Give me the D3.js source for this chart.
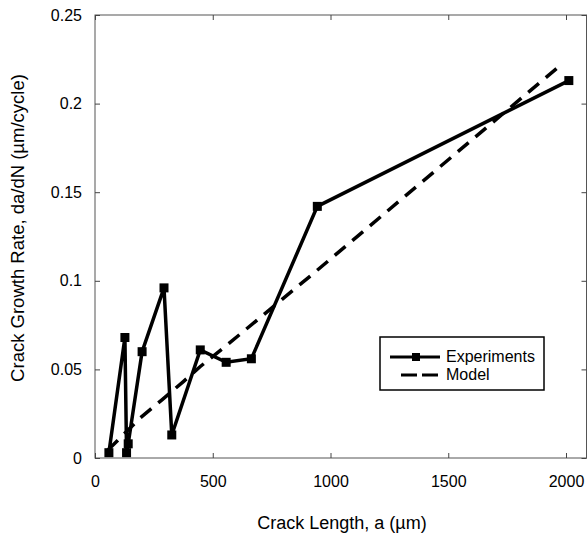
<!DOCTYPE html>
<html>
<head>
<meta charset="utf-8">
<script src="https://cdn.jsdelivr.net/npm/d3@7"></script>
<style>
  body { margin: 0; background: #fff; overflow: hidden; }
  svg { display: block; }
  text { font-family: "Liberation Sans", Arial, Helvetica, sans-serif; fill: #000; }
</style>
</head>
<body>
<div id="chart"></div>
<script>
const WIDTH = 587
const HEIGHT = 533
const PLOT = {left: 95, right: 586.5, top: 15, bottom: 458}

// experiments (crack length in um, growth rate in um/cycle)
const expLength = [59, 127, 134, 141, 200, 293, 326, 447, 557, 664, 944, 2012]
const expRate = [0.003, 0.068, 0.003, 0.008, 0.060, 0.096, 0.013, 0.061, 0.054, 0.056, 0.142, 0.213]

// model curve
const modelLength = [55, 191, 283, 374, 446, 560, 756, 926, 1967]
const modelRate = [0.0045, 0.0225, 0.0327, 0.043, 0.0515, 0.0637, 0.0853, 0.104, 0.2206]

const xTicks = [0, 500, 1000, 1500, 2000]
const yTicks = [0, 0.05, 0.1, 0.15, 0.2, 0.25]
const yTickLabels = ['0', '0.05', '0.1', '0.15', '0.2', '0.25']

const seriesNames = ['Experiments', 'Model']

let svg = d3.select('#chart')
    .append('svg')
    .attr('width', WIDTH)
    .attr('height', HEIGHT)

let xScale = d3.scaleLinear()
    .domain([0, 2087])
    .range([PLOT.left, PLOT.right])

let yScale = d3.scaleLinear()
    .domain([0, 0.25])
    .range([PLOT.bottom, PLOT.top])

// frame
svg.append('rect')
    .attr('x', PLOT.left)
    .attr('y', PLOT.top)
    .attr('width', PLOT.right - PLOT.left)
    .attr('height', PLOT.bottom - PLOT.top)
    .attr('fill', 'none')
    .attr('stroke', '#555')
    .attr('stroke-width', 1)

// axes, ticks pointing inward
let bottomAxis = svg.append('g')
    .attr('transform', 'translate(0,' + PLOT.bottom + ')')
    .call(d3.axisBottom(xScale).tickValues(xTicks).tickSizeInner(-5).tickSizeOuter(0).tickPadding(18)
        .tickFormat(d3.format('d')))
let topAxis = svg.append('g')
    .attr('transform', 'translate(0,' + PLOT.top + ')')
    .call(d3.axisTop(xScale).tickValues(xTicks).tickSizeInner(-5).tickSizeOuter(0).tickFormat(''))
let leftAxis = svg.append('g')
    .attr('transform', 'translate(' + PLOT.left + ',0)')
    .call(d3.axisLeft(yScale).tickValues(yTicks).tickSizeInner(-5).tickSizeOuter(0).tickPadding(13)
        .tickFormat((d, i) => yTickLabels[i]))
let rightAxis = svg.append('g')
    .attr('transform', 'translate(' + PLOT.right + ',0)')
    .call(d3.axisRight(yScale).tickValues(yTicks).tickSizeInner(-5).tickSizeOuter(0).tickFormat(''))

for (let ax of [bottomAxis, topAxis, leftAxis, rightAxis]) {
    ax.select('.domain').remove()
    ax.selectAll('.tick line').attr('stroke', '#444')
    ax.selectAll('.tick text')
        .style('font-size', '16px')
        .style('font-family', '"Liberation Sans", Arial, sans-serif')
        .attr('fill', '#000')
}

// model (dashed)
let line = d3.line()
    .x(d => xScale(d[0]))
    .y(d => yScale(d[1]))

svg.append('path')
    .datum(modelLength.map((a, i) => [a, modelRate[i]]))
    .attr('d', line)
    .attr('fill', 'none')
    .attr('stroke', '#000')
    .attr('stroke-width', 3.5)
    .attr('stroke-dasharray', '14,9')

// experiments
let expData = expLength.map((a, i) => [a, expRate[i]])
svg.append('path')
    .datum(expData)
    .attr('d', line)
    .attr('fill', 'none')
    .attr('stroke', '#000')
    .attr('stroke-width', 3.5)
    .attr('stroke-linejoin', 'miter')

const MARK = 9
svg.selectAll('rect.marker')
    .data(expData)
    .join('rect')
    .attr('class', 'marker')
    .attr('x', d => xScale(d[0]) - MARK / 2)
    .attr('y', d => yScale(d[1]) - MARK / 2)
    .attr('width', MARK)
    .attr('height', MARK)
    .attr('fill', '#000')

// axis titles
svg.append('text')
    .text('Crack Length, a (µm)')
    .attr('x', 342)
    .attr('y', 529)
    .attr('text-anchor', 'middle')
    .style('font-size', '18px')

svg.append('text')
    .text('Crack Growth Rate, da/dN (µm/cycle)')
    .attr('transform', 'translate(24,228) rotate(-90)')
    .attr('text-anchor', 'middle')
    .style('font-size', '18.5px')

// legend
let legend = svg.append('g').attr('transform', 'translate(380,337)')
legend.append('rect')
    .attr('width', 164)
    .attr('height', 53)
    .attr('fill', '#fff')
    .attr('stroke', '#000')
    .attr('stroke-width', 1.5)

legend.append('line')
    .attr('x1', 10).attr('x2', 60)
    .attr('y1', 20).attr('y2', 20)
    .attr('stroke', '#000')
    .attr('stroke-width', 3)
legend.append('rect')
    .attr('x', 36 - 4).attr('y', 20 - 4)
    .attr('width', 8).attr('height', 8)
    .attr('fill', '#000')
legend.append('line')
    .attr('x1', 21).attr('x2', 58)
    .attr('y1', 38).attr('y2', 38)
    .attr('stroke', '#000')
    .attr('stroke-width', 3)
    .attr('stroke-dasharray', '16,5')

legend.selectAll('text.leg')
    .data(seriesNames)
    .join('text')
    .attr('class', 'leg')
    .text(d => d)
    .attr('x', 66)
    .attr('y', (d, i) => 25 + i * 18)
    .style('font-size', '16px')
</script>
</body>
</html>
